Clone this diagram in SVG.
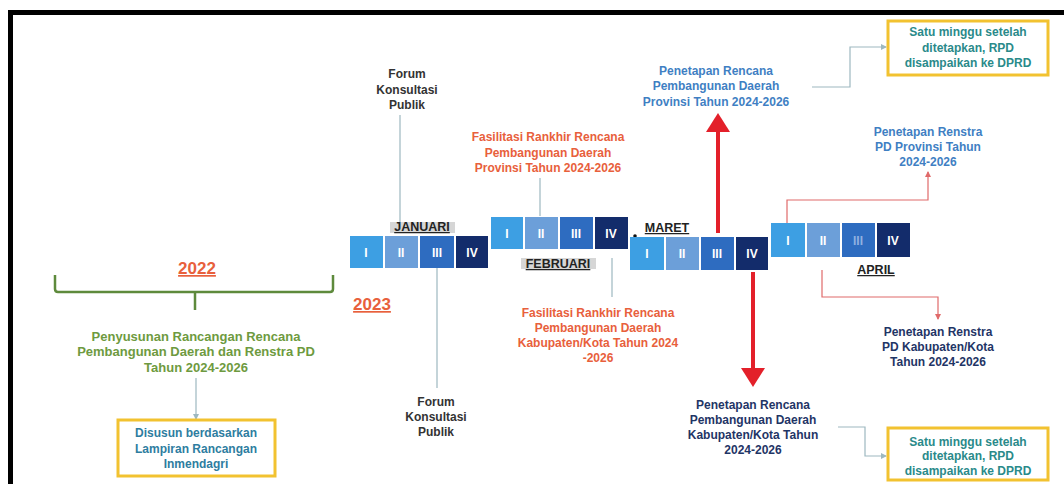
<svg xmlns="http://www.w3.org/2000/svg" width="1064" height="484" viewBox="0 0 1064 484">
<style>
  text { font-family: "Liberation Sans", Arial, sans-serif; font-weight: bold; text-anchor: middle; }
  .t { font-size: 12px; }
  .dark { fill: #333333; }
  .org { fill: #E8603C; }
  .blu { fill: #3F7FC3; }
  .nav { fill: #1F3566; }
  .grn { fill: #6E9A40; }
  .tea { fill: #2A8A8A; }
  .tea2 { fill: #2E7DA0; }
  .num { fill: #ffffff; font-size: 12px; }
  .mon { fill: #222222; font-size: 12.5px; text-decoration: underline; }
  .year { fill: #E8603C; font-size: 17px; text-decoration: underline; }
  .c1 { fill: #3D9FE3; } .c2 { fill: #6C9FD9; } .c3 { fill: #2E6CC0; } .c4 { fill: #132C6B; }
  .ybox { fill: #ffffff; stroke: #F2C230; stroke-width: 3; }
  .ln { fill: none; stroke: #9DB8C0; stroke-width: 1.2; }
  .rln { fill: none; stroke: #E06A6A; stroke-width: 1.2; }
  .big { fill: none; stroke: #E3202A; stroke-width: 4; }
  .shade { fill: #D6D6D6; }
</style>
<defs>
  <marker id="sa" viewBox="0 0 6 6" refX="5" refY="3" markerWidth="5" markerHeight="5" orient="auto">
    <path d="M0,0 L6,3 L0,6 z" fill="#9DB8C0"/>
  </marker>
  <marker id="ra" viewBox="0 0 6 6" refX="5" refY="3" markerWidth="5" markerHeight="5" orient="auto">
    <path d="M0,0 L6,3 L0,6 z" fill="#E06A6A"/>
  </marker>
</defs>
<rect width="1064" height="484" fill="#ffffff"/>
<path d="M10.5,484 V12.5 H1064" fill="none" stroke="#000000" stroke-width="5"/>

<g id="connectors">
  <path class="ln" d="M400,115 V227"/>
  <path class="ln" d="M540,178 V216"/>
  <path class="ln" d="M437,268 V388"/>
  <path class="ln" d="M612,258 V297"/>
  <path class="ln" d="M812,87 H850 V47 H886" marker-end="url(#sa)"/>
  <path class="ln" d="M838,427 H865 V456 H886" marker-end="url(#sa)"/>
  <path class="ln" d="M196,378 V419" marker-end="url(#sa)"/>
  <path class="rln" d="M787,223 V200 H928 V172" marker-end="url(#ra)"/>
  <path class="rln" d="M822,270 V297 H938 V319" marker-end="url(#ra)"/>
  <path class="big" d="M718,233 V128"/>
  <path d="M706,132 L718,113 L730,132 z" fill="#E3202A"/>
  <path class="big" d="M753,272 V372"/>
  <path d="M741,368 L753,387 L765,368 z" fill="#E3202A"/>
</g>

<g id="left-2022">
  <text class="year" x="197" y="274">2022</text>
  <path d="M55,275 V289 Q55,292 58,292 H330 Q333,292 333,289 V275 M195,292 V310" fill="none" stroke="#5E8A3C" stroke-width="2.5"/>
  <text class="grn" font-size="13" x="196" y="341">Penyusunan Rancangan Rencana</text>
  <text class="grn" font-size="13" x="196" y="356">Pembangunan Daerah dan Renstra PD</text>
  <text class="grn" font-size="13" x="196" y="372">Tahun 2024-2026</text>
</g>
<g id="box-inmendagri">
  <rect class="ybox" x="118" y="420" width="157" height="56"/>
  <text class="t tea2" x="196" y="437">Disusun berdasarkan</text>
  <text class="t tea2" x="196" y="453">Lampiran Rancangan</text>
  <text class="t tea2" x="196" y="468">Inmendagri</text>
</g>

<g id="january">
  <rect class="shade" x="390" y="222" width="65" height="11"/>
  <text class="mon" x="422" y="231">JANUARI</text>
  <rect class="c1" x="350" y="236" width="33" height="32"/>
  <rect class="c2" x="385" y="236" width="33" height="32"/>
  <rect class="c3" x="420" y="236" width="34" height="32"/>
  <rect class="c4" x="456" y="236" width="32" height="32"/>
  <text class="num" x="366" y="257">I</text>
  <text class="num" x="401" y="257">II</text>
  <text class="num" x="437" y="257">III</text>
  <text class="num" x="472" y="257">IV</text>
  <text class="year" x="372" y="310">2023</text>
</g>
<g id="february">
  <rect class="c1" x="491" y="217" width="32" height="32"/>
  <rect class="c2" x="525" y="217" width="33" height="32"/>
  <rect class="c3" x="560" y="217" width="33" height="32"/>
  <rect class="c4" x="595" y="217" width="33" height="32"/>
  <text class="num" x="507" y="238">I</text>
  <text class="num" x="541" y="238">II</text>
  <text class="num" x="576" y="238">III</text>
  <text class="num" x="611" y="238">IV</text>
  <rect class="shade" x="521" y="258" width="75" height="11"/>
  <text class="mon" x="558" y="268">FEBRUARI</text>
</g>
<g id="march">
  <circle cx="635" cy="236" r="1.8" fill="#111111"/>
  <text class="mon" x="667" y="232">MARET</text>
  <rect class="c1" x="630" y="237" width="34" height="33"/>
  <rect class="c2" x="666" y="237" width="33" height="33"/>
  <rect class="c3" x="701" y="237" width="33" height="33"/>
  <rect class="c4" x="736" y="237" width="32" height="33"/>
  <text class="num" x="647" y="258">I</text>
  <text class="num" x="682" y="258">II</text>
  <text class="num" x="717" y="258">III</text>
  <text class="num" x="752" y="258">IV</text>
</g>
<g id="april">
  <rect class="c1" x="771" y="223" width="34" height="34"/>
  <rect class="c2" x="807" y="223" width="33" height="34"/>
  <rect class="c3" x="842" y="223" width="33" height="34"/>
  <rect class="c4" x="877" y="223" width="33" height="34"/>
  <text class="num" x="788" y="245">I</text>
  <text class="num" x="823" y="245">II</text>
  <text class="num" x="858" y="245" style="fill:#8FB0E0">III</text>
  <text class="num" x="893" y="245">IV</text>
  <text class="mon" x="876" y="274">APRIL</text>
</g>

<g id="forum-top">
  <text class="t dark" x="407" y="78">Forum</text>
  <text class="t dark" x="407" y="94">Konsultasi</text>
  <text class="t dark" x="407" y="109">Publik</text>
</g>
<g id="forum-bottom">
  <text class="t dark" x="436" y="406">Forum</text>
  <text class="t dark" x="436" y="421">Konsultasi</text>
  <text class="t dark" x="436" y="436">Publik</text>
</g>
<g id="fasilitasi-prov">
  <text class="t org" x="548" y="141">Fasilitasi Rankhir Rencana</text>
  <text class="t org" x="548" y="157">Pembangunan Daerah</text>
  <text class="t org" x="548" y="172">Provinsi Tahun 2024-2026</text>
</g>
<g id="fasilitasi-kab">
  <text class="t org" x="598" y="317">Fasilitasi Rankhir Rencana</text>
  <text class="t org" x="598" y="332">Pembangunan Daerah</text>
  <text class="t org" x="598" y="347">Kabupaten/Kota Tahun 2024</text>
  <text class="t org" x="598" y="362">-2026</text>
</g>
<g id="penetapan-rpd-prov">
  <text class="t blu" x="716" y="75">Penetapan Rencana</text>
  <text class="t blu" x="716" y="90">Pembangunan Daerah</text>
  <text class="t blu" x="716" y="106">Provinsi Tahun 2024-2026</text>
</g>
<g id="box-dprd-top">
  <rect class="ybox" x="888" y="21" width="160" height="54"/>
  <text class="t tea" x="968" y="36">Satu minggu setelah</text>
  <text class="t tea" x="968" y="52">ditetapkan, RPD</text>
  <text class="t tea" x="968" y="67">disampaikan ke DPRD</text>
</g>
<g id="renstra-prov">
  <text class="t blu" x="928" y="136">Penetapan Renstra</text>
  <text class="t blu" x="928" y="151">PD Provinsi Tahun</text>
  <text class="t blu" x="928" y="166">2024-2026</text>
</g>
<g id="renstra-kab">
  <text class="t nav" x="938" y="336">Penetapan Renstra</text>
  <text class="t nav" x="938" y="351">PD Kabupaten/Kota</text>
  <text class="t nav" x="938" y="366">Tahun 2024-2026</text>
</g>
<g id="penetapan-rpd-kab">
  <text class="t nav" x="753" y="409">Penetapan Rencana</text>
  <text class="t nav" x="753" y="424">Pembangunan Daerah</text>
  <text class="t nav" x="753" y="439">Kabupaten/Kota Tahun</text>
  <text class="t nav" x="753" y="454">2024-2026</text>
</g>
<g id="box-dprd-bottom">
  <rect class="ybox" x="888" y="428" width="160" height="52"/>
  <text class="t tea" x="968" y="446">Satu minggu setelah</text>
  <text class="t tea" x="968" y="460">ditetapkan, RPD</text>
  <text class="t tea" x="968" y="475">disampaikan ke DPRD</text>
</g>
</svg>
